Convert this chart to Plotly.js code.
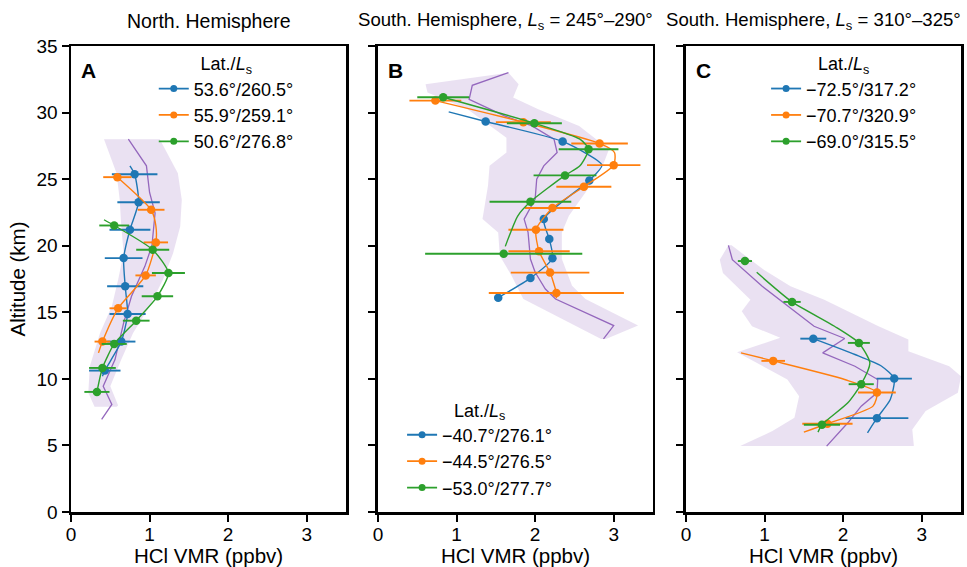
<!DOCTYPE html>
<html>
<head>
<meta charset="utf-8">
<script src="https://cdn.plot.ly/plotly-3.0.1.min.js"></script>
<style>html,body{margin:0;padding:0;background:#fff;}#chart{width:967px;height:567px;}</style>
</head>
<body>
<div id="chart"></div>
<script>
// ---------------- Panel A : North. Hemisphere ----------------
const A_blue_alt = [25.37, 23.27, 21.2, 19.07, 16.95, 14.87, 12.8, 10.62];
const A_blue_vmr = [0.81, 0.86, 0.75, 0.67, 0.69, 0.72, 0.64, 0.43];
const A_blue_err = [0.29, 0.27, 0.26, 0.24, 0.23, 0.23, 0.18, 0.20];
const A_blue_lineAlt = [26.0, 25.37, 23.27, 21.2, 19.07, 16.95, 14.87, 12.8, 10.62, 10.2];
const A_blue_lineVmr = [0.75, 0.81, 0.86, 0.75, 0.67, 0.69, 0.72, 0.64, 0.43, 0.40];

const A_orange_alt = [25.15, 22.7, 20.25, 17.77, 15.3, 12.8];
const A_orange_vmr = [0.59, 1.02, 1.08, 0.95, 0.60, 0.40];
const A_orange_err = [0.18, 0.17, 0.155, 0.13, 0.11, 0.10];
const A_orange_lineAlt = [25.15, 22.7, 21.5, 20.25, 17.77, 15.3, 12.8, 11.95];
const A_orange_lineVmr = [0.59, 1.02, 1.08, 1.08, 0.95, 0.60, 0.40, 0.35];

const A_green_alt = [21.52, 19.7, 17.95, 16.2, 14.37, 12.62, 10.82, 9.02];
const A_green_vmr = [0.55, 1.04, 1.24, 1.10, 0.83, 0.55, 0.40, 0.33];
const A_green_err = [0.19, 0.21, 0.21, 0.20, 0.17, 0.16, 0.17, 0.16];
const A_green_lineAlt = [21.95, 21.52, 19.7, 17.95, 16.2, 14.37, 12.62, 10.82, 9.02];
const A_green_lineVmr = [0.42, 0.55, 1.04, 1.24, 1.10, 0.83, 0.55, 0.40, 0.33];

const A_model_alt = [28.0, 26.0, 24.0, 22.45, 20.0, 18.45, 16.2, 14.2, 11.45, 9.45, 8.08, 6.95];
const A_model_vmr = [0.73, 0.96, 1.0, 1.07, 1.03, 0.94, 0.77, 0.67, 0.56, 0.41, 0.52, 0.39];

const A_bandLeftAlt = [28.0, 25.45, 23.45, 21.45, 19.45, 17.45, 15.45, 13.45, 10.95, 8.95, 7.9];
const A_bandLeftVmr = [0.42, 0.58, 0.62, 0.64, 0.67, 0.60, 0.52, 0.37, 0.24, 0.22, 0.30];
const A_bandRightAlt = [28.0, 25.45, 23.45, 21.45, 19.45, 17.45, 15.45, 13.45, 11.45, 9.45, 8.0, 7.9];
const A_bandRightVmr = [1.13, 1.36, 1.41, 1.39, 1.30, 1.17, 1.00, 0.79, 0.64, 0.50, 0.60, 0.58];

// ---------------- Panel B : South. Hemisphere, Ls = 245-290 ----------------
const B_blue_alt = [29.33, 27.83, 24.9, 22.0, 20.5, 19.05, 17.57, 16.1];
const B_blue_vmr = [1.37, 2.35, 2.69, 2.11, 2.18, 2.22, 1.94, 1.53];
const B_blue_lineAlt = [30.05, 29.33, 27.83, 26.05, 24.9, 22.0, 20.5, 19.05, 17.57, 16.1];
const B_blue_lineVmr = [0.90, 1.37, 2.35, 2.85, 2.69, 2.11, 2.18, 2.22, 1.94, 1.53];

const B_orange_alt = [30.9, 29.28, 27.68, 26.05, 24.43, 22.83, 21.2, 19.58, 17.98, 16.45];
const B_orange_vmr = [0.73, 1.85, 2.82, 3.00, 2.62, 2.22, 2.01, 2.05, 2.19, 2.27];
const B_orange_err = [0.33, 0.35, 0.36, 0.34, 0.35, 0.35, 0.35, 0.39, 0.50, 0.86];
const B_orange_lineAlt = [30.9, 29.28, 27.68, 27.0, 26.05, 24.43, 22.83, 21.2, 19.58, 17.98, 16.45, 16.05];
const B_orange_lineVmr = [0.73, 1.85, 2.82, 3.01, 3.00, 2.62, 2.22, 2.01, 2.05, 2.19, 2.27, 2.27];

const B_green_alt = [31.15, 29.2, 27.25, 25.28, 23.3, 19.4];
const B_green_vmr = [0.83, 1.99, 2.68, 2.38, 1.94, 1.60];
const B_green_err = [0.33, 0.35, 0.38, 0.40, 0.52, 1.00];
const B_green_lineAlt = [31.15, 29.2, 28.0, 27.25, 26.0, 25.28, 23.3, 22.25, 19.95];
const B_green_lineVmr = [0.83, 1.99, 2.57, 2.68, 2.57, 2.38, 1.94, 1.78, 1.62];

const B_model_alt = [33.0, 32.05, 31.0, 29.75, 29.0, 28.0, 27.0, 26.0, 25.0, 23.5, 22.0, 21.0, 19.0, 18.0, 16.75, 16.0, 14.0, 13.0];
const B_model_vmr = [1.66, 1.20, 1.16, 1.61, 1.96, 2.24, 2.28, 2.11, 2.02, 2.00, 1.86, 1.91, 1.94, 2.00, 2.13, 2.26, 3.00, 2.87];

const B_bandLeftAlt = [32.13, 31.5, 30.25, 28.1, 27.0, 26.0, 24.5, 22.0, 21.0, 19.25, 17.75, 16.0, 13.0];
const B_bandLeftVmr = [0.605, 0.63, 1.14, 1.635, 1.635, 1.42, 1.40, 1.33, 1.53, 1.55, 1.70, 1.85, 2.84];
const B_bandRightAlt = [33.0, 32.13, 31.13, 30.25, 29.0, 27.25, 26.0, 24.0, 22.25, 21.0, 19.0, 17.0, 16.0, 14.0, 13.0];
const B_bandRightVmr = [1.66, 1.79, 1.72, 2.04, 2.56, 2.94, 2.86, 2.64, 2.43, 2.34, 2.34, 2.47, 2.64, 3.31, 2.90];

// ---------------- Panel C : South. Hemisphere, Ls = 310-325 ----------------
const C_blue_alt = [13.02, 10.02, 7.05];
const C_blue_vmr = [1.62, 2.65, 2.43];
const C_blue_err = [0.165, 0.225, 0.40];
const C_blue_lineAlt = [13.02, 11.83, 10.95, 10.02, 8.45, 7.05, 5.95];
const C_blue_lineVmr = [1.62, 2.15, 2.49, 2.65, 2.60, 2.43, 2.31];

const C_orange_alt = [11.35, 8.98, 6.63];
const C_orange_vmr = [1.11, 2.43, 1.80];
const C_orange_err = [0.15, 0.24, 0.32];
const C_orange_lineAlt = [11.95, 11.35, 9.95, 8.98, 7.95, 6.63, 6.0];
const C_orange_lineVmr = [0.70, 1.11, 2.02, 2.43, 2.38, 1.80, 1.50];

const C_green_alt = [18.85, 15.78, 12.7, 9.6, 6.55];
const C_green_vmr = [0.75, 1.35, 2.20, 2.23, 1.73];
const C_green_err = [0.09, 0.11, 0.14, 0.16, 0.23];
const C_green_lineAlt = [18.0, 15.78, 13.95, 12.7, 11.2, 9.6, 8.2, 6.55, 6.0];
const C_green_lineVmr = [0.90, 1.35, 1.89, 2.20, 2.34, 2.23, 2.06, 1.73, 1.68];

const C_model_alt = [20.03, 18.95, 16.95, 14.95, 13.95, 13.03, 11.95, 10.95, 9.95, 8.95, 7.95, 6.7, 4.95];
const C_model_vmr = [0.54, 0.59, 0.97, 1.40, 1.63, 2.02, 1.74, 2.15, 2.44, 2.43, 2.23, 2.06, 1.79];

const C_bandLeftAlt = [20.03, 18.95, 17.95, 15.95, 15.08, 13.95, 13.08, 12.0, 9.95, 8.7, 7.08, 6.08, 4.95];
const C_bandLeftVmr = [0.54, 0.43, 0.47, 0.82, 0.71, 0.84, 1.20, 0.65, 1.29, 1.44, 1.38, 1.10, 0.69];
const C_bandRightAlt = [20.03, 18.2, 16.95, 15.95, 13.95, 12.95, 12.08, 10.95, 10.2, 8.95, 7.58, 6.2, 4.95];
const C_bandRightVmr = [0.58, 0.99, 1.33, 1.76, 2.45, 2.83, 2.83, 3.35, 3.50, 3.46, 3.05, 2.88, 2.90];

// ---------------- Labels ----------------
const panelTitles = ['North. Hemisphere',
  'South. Hemisphere, <i>L</i><sub>s</sub> = 245°–290°',
  'South. Hemisphere, <i>L</i><sub>s</sub> = 310°–325°'];
const panelLetters = ['A', 'B', 'C'];
const legendTitle = 'Lat./<i>L</i><sub>s</sub>';
const A_names = ['53.6°/260.5°', '55.9°/259.1°', '50.6°/276.8°'];
const B_names = ['−40.7°/276.1°', '−44.5°/276.5°', '−53.0°/277.7°'];
const C_names = ['−72.5°/317.2°', '−70.7°/320.9°', '−69.0°/315.5°'];
const xTicks = [0, 1, 2, 3];
const xTitle = 'HCl VMR (ppbv)';
const yTitle = 'Altitude (km)';

const COLORS = ['#1f77b4', '#ff7f0e', '#2ca02c'];
const PURPLE = '#9467bd';
const BAND = 'rgba(148,103,189,0.2)';
const FONT = 'Liberation Sans, Arial, Helvetica, sans-serif';

const traces = [];
function band(xa, ya, lx, ly, rx, ry) {
  traces.push({x: lx.concat(rx.slice().reverse()), y: ly.concat(ry.slice().reverse()),
    xaxis: xa, yaxis: ya, mode: 'lines', fill: 'toself', fillcolor: BAND,
    line: {width: 0}, hoverinfo: 'skip', showlegend: false});
}
function model(xa, ya, x, y) {
  traces.push({x: x, y: y, xaxis: xa, yaxis: ya, mode: 'lines',
    line: {color: PURPLE, width: 1.3}, showlegend: false});
}
function series(xa, ya, lx, ly, px, py, err, color, name, leg) {
  traces.push({x: lx, y: ly, xaxis: xa, yaxis: ya, mode: 'lines',
    line: {color: color, width: 1.4, shape: 'spline', smoothing: 0.6}, showlegend: false});
  const t = {x: px, y: py, xaxis: xa, yaxis: ya, mode: 'markers',
    marker: {color: color, size: 8.5}, showlegend: false};
  if (err) t.error_x = {type: 'data', array: err, visible: true, color: color, thickness: 1.9, width: 0};
  traces.push(t);
  traces.push({x: [null], y: [null], xaxis: xa, yaxis: ya, mode: 'lines+markers',
    line: {color: color, width: 1.8}, marker: {color: color, size: 7},
    name: name, legend: leg, showlegend: true});
}

band('x', 'y', A_bandLeftVmr, A_bandLeftAlt, A_bandRightVmr, A_bandRightAlt);
model('x', 'y', A_model_vmr, A_model_alt);
series('x', 'y', A_blue_lineVmr, A_blue_lineAlt, A_blue_vmr, A_blue_alt, A_blue_err, COLORS[0], A_names[0], 'legend');
series('x', 'y', A_orange_lineVmr, A_orange_lineAlt, A_orange_vmr, A_orange_alt, A_orange_err, COLORS[1], A_names[1], 'legend');
series('x', 'y', A_green_lineVmr, A_green_lineAlt, A_green_vmr, A_green_alt, A_green_err, COLORS[2], A_names[2], 'legend');

band('x2', 'y2', B_bandLeftVmr, B_bandLeftAlt, B_bandRightVmr, B_bandRightAlt);
model('x2', 'y2', B_model_vmr, B_model_alt);
series('x2', 'y2', B_blue_lineVmr, B_blue_lineAlt, B_blue_vmr, B_blue_alt, null, COLORS[0], B_names[0], 'legend2');
series('x2', 'y2', B_orange_lineVmr, B_orange_lineAlt, B_orange_vmr, B_orange_alt, B_orange_err, COLORS[1], B_names[1], 'legend2');
series('x2', 'y2', B_green_lineVmr, B_green_lineAlt, B_green_vmr, B_green_alt, B_green_err, COLORS[2], B_names[2], 'legend2');

band('x3', 'y3', C_bandLeftVmr, C_bandLeftAlt, C_bandRightVmr, C_bandRightAlt);
model('x3', 'y3', C_model_vmr, C_model_alt);
series('x3', 'y3', C_blue_lineVmr, C_blue_lineAlt, C_blue_vmr, C_blue_alt, C_blue_err, COLORS[0], C_names[0], 'legend3');
series('x3', 'y3', C_orange_lineVmr, C_orange_lineAlt, C_orange_vmr, C_orange_alt, C_orange_err, COLORS[1], C_names[1], 'legend3');
series('x3', 'y3', C_green_lineVmr, C_green_lineAlt, C_green_vmr, C_green_alt, C_green_err, COLORS[2], C_names[2], 'legend3');

function xax(domain, anchor) {
  return {domain: domain, anchor: anchor, range: [0, 3.5], tickvals: xTicks, ticks: 'outside',
    ticklen: 7, tickwidth: 2, tickcolor: '#000', showline: true, linewidth: 2.5, linecolor: '#000',
    mirror: true, showgrid: false, zeroline: false, tickfont: {size: 19, color: '#000'},
    ticklabelstandoff: -3,
    title: {text: xTitle, font: {size: 20.5, color: '#000'}, standoff: 8}};
}
function yax(anchor, labels) {
  const a = {domain: [0, 1], anchor: anchor, range: [0, 35], dtick: 5, tick0: 0, ticks: 'outside',
    ticklen: 7, tickwidth: 2, tickcolor: '#000', showline: true, linewidth: 2.5, linecolor: '#000',
    mirror: true, showgrid: false, zeroline: false, showticklabels: labels,
    tickfont: {size: 19, color: '#000'}};
  if (labels) a.title = {text: yTitle, font: {size: 20.5, color: '#000'}, standoff: 6};
  return a;
}
function leg(x, y) {
  return {x: x, y: y, xanchor: 'left', yanchor: 'top', bgcolor: 'rgba(0,0,0,0)',
    font: {size: 18, color: '#000'}, itemwidth: 30, tracegroupgap: 0,
    title: {text: legendTitle, side: 'top center', font: {size: 18, color: '#000'}}};
}
const domains = [[0, 0.30899], [0.34494, 0.65393], [0.69101, 1]];
const titleX = [0.5, 0.462, 0.462];
const titleSize = [19.5, 18.6, 18.6];
const annotations = [];
['x', 'x2', 'x3'].forEach((xr, i) => {
  annotations.push({xref: xr + ' domain', yref: 'paper', x: titleX[i], y: 1.053, xanchor: 'center', yanchor: 'middle',
    text: panelTitles[i], showarrow: false, font: {size: titleSize[i], color: '#000'}});
  annotations.push({xref: xr + ' domain', yref: (i === 0 ? 'y' : 'y' + (i + 1)) + ' domain', x: 0.065, y: 0.948,
    xanchor: 'center', yanchor: 'middle', text: '<b>' + panelLetters[i] + '</b>', showarrow: false,
    font: {size: 21, color: '#000'}});
});

const layout = {
  width: 967, height: 567, margin: {l: 71, r: 6, t: 46, b: 55},
  paper_bgcolor: '#fff', plot_bgcolor: '#fff', font: {family: FONT, color: '#000'},
  xaxis: xax(domains[0], 'y'), xaxis2: xax(domains[1], 'y2'), xaxis3: xax(domains[2], 'y3'),
  yaxis: yax('x', true), yaxis2: yax('x2', false), yaxis3: yax('x3', false),
  legend: leg(0.093, 0.998), legend2: leg(0.372, 0.255), legend3: leg(0.781, 0.998),
  annotations: annotations
};
Plotly.newPlot('chart', traces, layout, {displayModeBar: false, staticPlot: true});
</script>
</body>
</html>
